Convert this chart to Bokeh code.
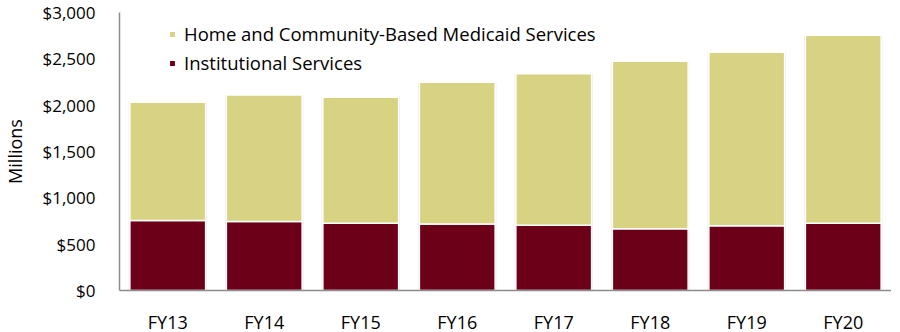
from bokeh.plotting import figure
from bokeh.models import ColumnDataSource, Legend, LegendItem, NumeralTickFormatter, FactorRange
from bokeh.embed import file_html
from bokeh.resources import INLINE

years = ["FY13", "FY14", "FY15", "FY16", "FY17", "FY18", "FY19", "FY20"]
institutional = [755, 744, 726, 718, 705, 666, 698, 726]
totals = [2031, 2111, 2085, 2247, 2338, 2474, 2571, 2754]
hcbs = [t - i for t, i in zip(totals, institutional)]

series_names = ["Institutional Services", "Home and Community-Based Medicaid Services"]
colors = ["#6D0019", "#D8D383"]

src = ColumnDataSource(dict(years=years, inst=institutional, hcbs=hcbs, total=totals))

FONT = "Open Sans"

p = figure(x_range=FactorRange(*years, range_padding=0), y_range=(0, 3000),
           frame_width=772, frame_height=278, output_backend="svg", toolbar_location=None,
           min_border_left=112, min_border_right=0, min_border_top=12, min_border_bottom=0)
p.outline_line_color = None
p.grid.grid_line_color = None
p.background_fill_color = "white"

# soft shadow behind each bar
p.vbar(x="years", top="total", bottom=-15, width=0.81, source=src,
       fill_color="#000000", fill_alpha=0.10, line_color=None)

r_inst = p.vbar(x="years", top="inst", bottom=0, width=0.785, source=src,
                fill_color=colors[0], line_color="white", line_width=1.5)
r_hcbs = p.vbar(x="years", top="total", bottom="inst", width=0.785, source=src,
                fill_color=colors[1], line_color="white", line_width=1.5)

p.yaxis.ticker = [0, 500, 1000, 1500, 2000, 2500, 3000]
p.yaxis.formatter = NumeralTickFormatter(format="$0,0")
p.yaxis.axis_label = "Millions"
for ax in (p.xaxis[0], p.yaxis[0]):
    ax.major_tick_line_color = None
    ax.minor_tick_line_color = None
    ax.axis_line_color = "#8C8C8C"
    ax.axis_line_width = 1.5
    ax.major_label_text_font = FONT
    ax.major_label_text_color = "#000000"
    ax.axis_label_text_font = FONT
    ax.axis_label_text_font_style = "normal"
    ax.axis_label_text_color = "#000000"
p.yaxis.major_label_text_font_size = "17px"
p.xaxis.major_label_text_font_size = "18px"
p.yaxis.axis_label_text_font_size = "18px"
p.yaxis.major_label_standoff = 18
p.yaxis.axis_label_standoff = 12
p.xaxis.major_label_standoff = 13

legend = Legend(items=[LegendItem(label=series_names[1], renderers=[r_hcbs]),
                       LegendItem(label=series_names[0], renderers=[r_inst])],
                location=(49, 215), orientation="vertical")
legend.background_fill_alpha = 0
legend.border_line_color = None
legend.padding = 0
legend.margin = 0
legend.spacing = 4
legend.glyph_width = 8
legend.glyph_height = 8
legend.label_height = 20
legend.label_standoff = 8
legend.label_text_font = FONT
legend.label_text_font_size = "18.5px"
legend.label_text_color = "#000000"
p.add_layout(legend)

open("out.html", "w").write(file_html(p, INLINE))
